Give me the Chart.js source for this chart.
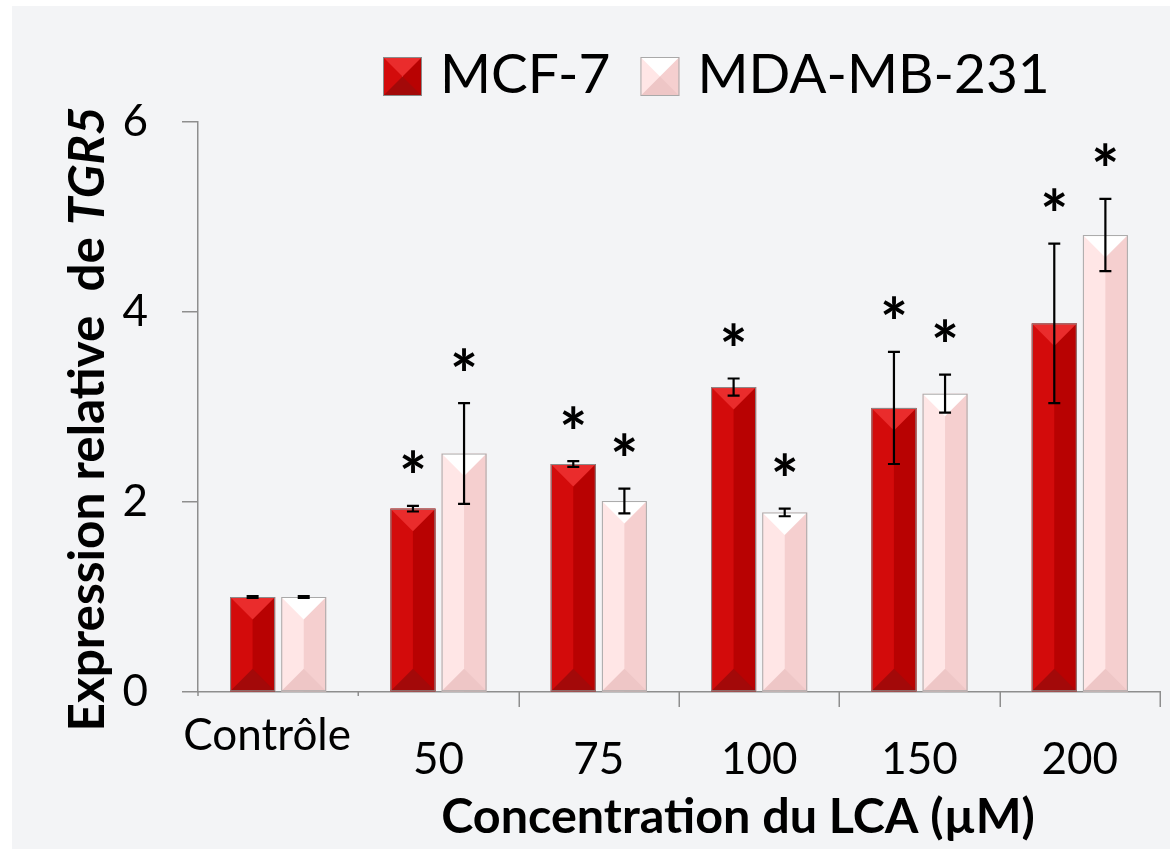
<!DOCTYPE html>
<html>
<head>
<meta charset="utf-8">
<script src="https://cdn.jsdelivr.net/npm/chart.js@4.4.1/dist/chart.umd.min.js"></script>
<style>
  html, body { margin: 0; padding: 0; background: #ffffff; }
  #wrap { width: 1175px; height: 849px; position: relative; }
</style>
</head>
<body>
<div id="wrap"><canvas id="c" width="1175" height="849"></canvas></div>
<script>
// Relative TGR5 expression after LCA treatment (mean ± error)
const categories = ['Contrôle', '50', '75', '100', '150', '200'];
const seriesNames = ['MCF-7', 'MDA-MB-231'];
const mcf7Values = [1.00, 1.93, 2.40, 3.21, 2.99, 3.88];
const mcf7Errors = [0.01, 0.03, 0.03, 0.09, 0.59, 0.84];
const mdaValues  = [1.00, 2.51, 2.01, 1.89, 3.14, 4.81];
const mdaErrors  = [0.01, 0.53, 0.13, 0.04, 0.20, 0.38];
const mcf7Significant = [false, true, true, true, true, true];
const mdaSignificant  = [false, true, true, true, true, true];
const yTicks = [0, 2, 4, 6];
const yTitleMain = 'Expression relative  de ';
const yTitleGene = 'TGR5';
const xTitle = 'Concentration du LCA (µM)';

const FONT = 'Lato, "Open Sans", sans-serif';
const AXIS_GREY = '#8e8e8e';

// Bevel colours for each series: left/right halves, top and bottom facets
const palettes = [
  { left: '#d30b0b', right: '#b80202', top: '#ea2c2c', bottom: '#a30909', edge: '#8a8a8a' },
  { left: '#ffe6e6', right: '#f5cfcf', top: '#ffffff', bottom: '#eec6c6', edge: '#a9a9a9' }
];
const errorSets = [mcf7Errors, mdaErrors];
const sigSets = [mcf7Significant, mdaSignificant];

function drawBevel(ctx, x0, x1, yTop, yBot, pal) {
  const w = x1 - x0, cx = (x0 + x1) / 2, d = Math.min(w / 2, (yBot - yTop) / 2);
  ctx.fillStyle = pal.left;  ctx.fillRect(x0, yTop, cx - x0, yBot - yTop);
  ctx.fillStyle = pal.right; ctx.fillRect(cx, yTop, x1 - cx, yBot - yTop);
  ctx.fillStyle = pal.top;
  ctx.beginPath(); ctx.moveTo(x0, yTop); ctx.lineTo(x1, yTop); ctx.lineTo(cx, yTop + d); ctx.closePath(); ctx.fill();
  ctx.fillStyle = pal.bottom;
  ctx.beginPath(); ctx.moveTo(x0, yBot); ctx.lineTo(x1, yBot); ctx.lineTo(cx, yBot - d); ctx.closePath(); ctx.fill();
  ctx.strokeStyle = pal.edge; ctx.lineWidth = 1;
  ctx.strokeRect(x0 + 0.5, yTop + 0.5, w - 1, yBot - yTop - 1);
}

const backgroundPlugin = {
  id: 'panelBackground',
  beforeDraw(chart) {
    const ctx = chart.ctx;
    ctx.save();
    ctx.fillStyle = '#ffffff';
    ctx.fillRect(0, 0, chart.width, chart.height);
    ctx.fillStyle = '#f3f4f6';
    ctx.fillRect(12, 6, chart.width - 17, chart.height - 6);
    ctx.restore();
  }
};

const bevelPlugin = {
  id: 'bevelBars',
  afterDatasetDraw(chart, args) {
    const meta = args.meta, pal = palettes[args.index];
    const ctx = chart.ctx;
    ctx.save();
    meta.data.forEach(bar => {
      const p = bar.getProps(['x', 'y', 'base', 'width'], true);
      drawBevel(ctx, p.x - p.width / 2, p.x + p.width / 2, p.y, p.base, pal);
    });
    ctx.restore();
  }
};

const errorPlugin = {
  id: 'errorBarsAndStars',
  afterDatasetsDraw(chart) {
    const ctx = chart.ctx, yScale = chart.scales.y;
    ctx.save();
    ctx.font = 'bold 66px ' + FONT;
    const m = ctx.measureText('*');
    const starMid = (m.actualBoundingBoxAscent - m.actualBoundingBoxDescent) / 2;
    chart.data.datasets.forEach((ds, di) => {
      const meta = chart.getDatasetMeta(di);
      meta.data.forEach((bar, i) => {
        const v = ds.data[i], e = errorSets[di][i];
        const yHi = yScale.getPixelForValue(v + e);
        const yLo = yScale.getPixelForValue(v - e);
        const x = bar.x;
        ctx.strokeStyle = '#000000';
        ctx.lineWidth = 2.2;
        ctx.beginPath();
        ctx.moveTo(x, yHi); ctx.lineTo(x, yLo);
        ctx.moveTo(x - 6, yHi); ctx.lineTo(x + 6, yHi);
        ctx.moveTo(x - 6, yLo); ctx.lineTo(x + 6, yLo);
        ctx.stroke();
        if (sigSets[di][i]) {
          ctx.fillStyle = '#000000';
          ctx.textAlign = 'center';
          ctx.textBaseline = 'alphabetic';
          ctx.fillText('*', x, yHi - 44 + starMid);
        }
      });
    });
    ctx.restore();
  }
};

const axisDecorPlugin = {
  id: 'axisDecor',
  afterDraw(chart) {
    const ctx = chart.ctx, xs = chart.scales.x, area = chart.chartArea;
    ctx.save();
    // category separator ticks below the x axis
    ctx.strokeStyle = AXIS_GREY; ctx.lineWidth = 1.5;
    ctx.beginPath();
    for (let i = 1; i <= categories.length; i++) {
      const xb = i < categories.length
        ? (xs.getPixelForValue(i - 1) + xs.getPixelForValue(i)) / 2
        : area.right;
      const len = i === 1 ? 4 : 15;
      ctx.moveTo(Math.round(xb) + 0.25, area.bottom); ctx.lineTo(Math.round(xb) + 0.25, area.bottom + len);
    }
    ctx.moveTo(area.left, area.bottom); ctx.lineTo(area.left, area.bottom + 4);
    ctx.stroke();

    // legend
    ctx.textBaseline = 'alphabetic';
    ctx.textAlign = 'left';
    ctx.font = '55px ' + FONT;
    let lx = 383;
    seriesNames.forEach((name, i) => {
      drawBevel(ctx, lx, lx + 39, 57, 96, palettes[i]);
      lx += 39 + 18;
      ctx.fillStyle = '#000000';
      ctx.fillText(name, lx, 93);
      lx += ctx.measureText(name).width + 30;
    });

    // y axis title (rotated, gene name in italics)
    ctx.save();
    ctx.translate(104, 419);
    ctx.rotate(-Math.PI / 2);
    const fMain = 'bold 49.5px ' + FONT, fGene = 'italic bold 49.5px ' + FONT;
    ctx.font = fMain; const w1 = ctx.measureText(yTitleMain).width;
    ctx.font = fGene; const w2 = ctx.measureText(yTitleGene).width;
    let sx = -(w1 + w2) / 2;
    ctx.fillStyle = '#000000';
    ctx.font = fMain; ctx.fillText(yTitleMain, sx, 0);
    ctx.font = fGene; ctx.fillText(yTitleGene, sx + w1, 0);
    ctx.restore();

    // x axis title
    ctx.font = 'bold 48.5px ' + FONT;
    ctx.textAlign = 'center';
    ctx.fillStyle = '#000000';
    ctx.fillText(xTitle, 738, 833);
    ctx.restore();
  }
};

new Chart(document.getElementById('c'), {
  type: 'bar',
  data: {
    labels: categories,
    datasets: [
      { label: seriesNames[0], data: mcf7Values, backgroundColor: palettes[0].left },
      { label: seriesNames[1], data: mdaValues, backgroundColor: palettes[1].left }
    ]
  },
  options: {
    responsive: false,
    animation: false,
    events: [],
    categoryPercentage: 0.6375,
    barPercentage: 0.88,
    layout: { padding: { left: 0, right: 15, top: 122, bottom: 0 } },
    plugins: { legend: { display: false }, tooltip: { enabled: false } },
    scales: {
      x: {
        grid: { display: false, drawTicks: false },
        border: { display: true, color: AXIS_GREY, width: 1.5 },
        ticks: {
          autoSkip: false, maxRotation: 0, minRotation: 0,
          color: '#000000',
          padding: 32,
          font: { family: FONT, size: 44, lineHeight: 0.55 },
          callback: (v, i) => i === 0 ? categories[i] + '\u2002' : ['', categories[i]]
        },
        afterFit(scale) { scale.height = 157; }
      },
      y: {
        min: 0, max: 6,
        afterBuildTicks(scale) { scale.ticks = yTicks.map(v => ({ value: v })); },
        grid: { drawOnChartArea: false, drawTicks: true, tickLength: 16, color: AXIS_GREY, lineWidth: 1.5 },
        border: { display: true, color: AXIS_GREY, width: 1.5 },
        ticks: { color: '#000000', padding: 34, font: { family: FONT, size: 44 } },
        afterFit(scale) { scale.width = 198; }
      }
    }
  },
  plugins: [backgroundPlugin, bevelPlugin, errorPlugin, axisDecorPlugin]
});
</script>
</body>
</html>
